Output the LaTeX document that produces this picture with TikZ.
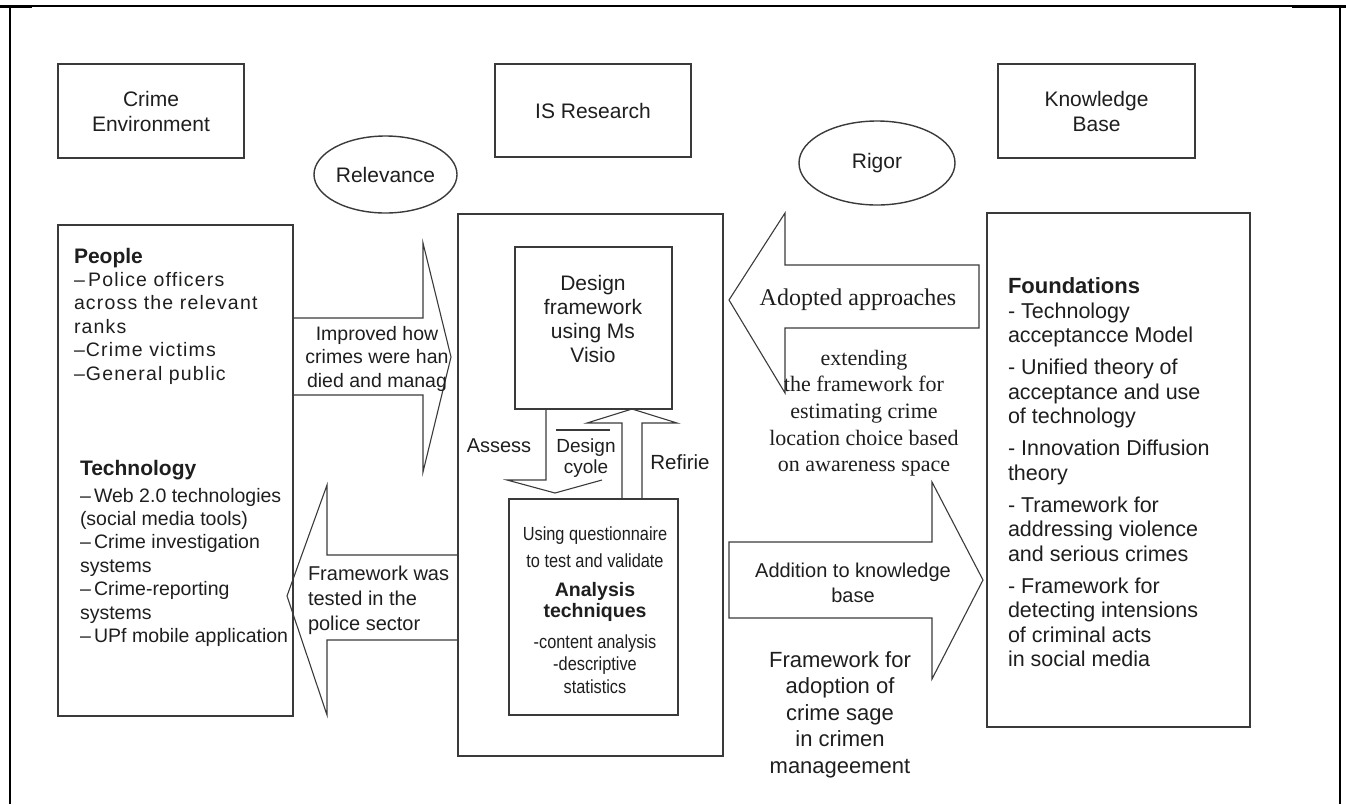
\documentclass[tikz,border=0pt]{standalone}
\usepackage{fontspec}
\usetikzlibrary{shapes.geometric}
\setmainfont{Liberation Sans}
\newfontfamily\serfnt{Liberation Serif}
\newfontfamily\condfnt[FakeStretch=0.86]{Liberation Sans}
\newfontfamily\spacedfnt[LetterSpace=6]{Liberation Sans}
\newcommand\fsz[2]{\fontsize{#1}{#2}\selectfont}
\definecolor{linec}{HTML}{3A3A3A}
\definecolor{txtc}{HTML}{1E1E1E}
\begin{document}
\begin{tikzpicture}[x=1pt,y=-1pt,
  box/.style={draw=linec,line width=1.4pt,inner sep=0,outer sep=0,text=txtc,align=center},
  txt/.style={inner sep=0,outer sep=0,text=txtc},
  blockarrow/.style={draw=linec,line width=1.1pt,line join=miter}]
\useasboundingbox (0,0) rectangle (1346,804);
% outer frame
\draw[line width=1.6pt,black] (10,804) -- (10,6) -- (1340,6) -- (1340,804);
\draw[line width=3pt,black] (0,6) -- (32,6);
\draw[line width=3pt,black] (1292,6) -- (1346,6);

% top labels
\node[box,minimum width=186,minimum height=94,font=\fsz{21}{25}] (crime) at (151,111) {Crime\\Environment};
\node[box,minimum width=196,minimum height=93,font=\fsz{21}{25}] (isr) at (593,110.5) {IS Research};
\node[box,minimum width=197,minimum height=94,font=\fsz{21}{25}] (kb) at (1096.5,111) {Knowledge\\Base};
\node[box,ellipse,minimum width=143,minimum height=77,font=\fsz{21}{25}] (rel) at (385.5,174.5) {Relevance};
\node[box,ellipse,minimum width=156,minimum height=84,font=\fsz{21}{25}] (rig) at (877,163) {Rigor};

% main boxes
\node[box,anchor=north west,minimum width=235,minimum height=491] (envbox) at (58,225) {};
\node[box,anchor=north west,minimum width=265,minimum height=542] (isbox) at (458,214) {};
\node[box,anchor=north west,minimum width=157,minimum height=162] (design) at (515,247) {};
\node[box,anchor=north west,minimum width=169,minimum height=216] (quest) at (509,499) {};
\node[box,anchor=north west,minimum width=263,minimum height=514] (kbbox) at (987,213) {};

% left box text (multi-line nodes anchored at the baseline of their last line)
\node[txt,anchor=base west,font=\bfseries\fsz{21}{25}] (peopleh) at (74,263) {People};
\node[txt,anchor=base west,align=left,font=\spacedfnt\fsz{19.5}{23.5}] (peoplel) at (74,380)
  {–\,Police officers\\across the relevant\\ranks\\–Crime victims\\–General public};
\node[txt,anchor=base west,font=\bfseries\fsz{21}{25}] (techh) at (80,475) {Technology};
\node[txt,anchor=base west,align=left,font=\fsz{19.5}{23.4}] (techl) at (80,642.4)
  {–\,Web 2.0 technologies\\(social media tools)\\–\,Crime investigation\\systems\\–\,Crime-reporting\\systems\\–\,UPf mobile application};

% left block arrows
\draw[blockarrow] (293,318) -- (423,318) -- (423,243) -- (451,357) -- (423,472) -- (423,395) -- (293,395);
\node[txt,anchor=base,align=center,font=\fsz{19.5}{23.5}] (impt) at (377,387) {Improved how\\crimes were han\\died and manag};
\draw[blockarrow] (458,555) -- (327,555) -- (327,485) -- (287,596) -- (327,715) -- (327,640) -- (458,640);
\node[txt,anchor=base west,align=left,font=\fsz{20}{25}] (fwt) at (308,630) {Framework was\\tested in the\\police sector};

% IS research content
\node[txt,anchor=base,align=center,font=\fsz{21}{24.3}] (dest) at (593,362.9) {Design\\framework\\using Ms\\Visio};
\draw[blockarrow] (546,409) -- (546,480) -- (507,480) -- (555,493) -- (602,480);
\draw[blockarrow] (556,430) -- (610,430);
\draw[blockarrow] (622,499) -- (622,423) -- (587,423) -- (632,409) -- (677,423) -- (642,423) -- (642,499);
\node[txt,anchor=base,font=\fsz{20}{24}] (assess) at (499,452) {Assess};
\node[txt,anchor=base,align=center,font=\fsz{19}{21}] (dcyc) at (586,473) {Design\\cyole};
\node[txt,anchor=base,font=\fsz{20.5}{24}] (refirie) at (680,469) {Refirie};
\node[txt,anchor=base,align=center,font=\condfnt\fsz{19}{27}] (qt1) at (595,567) {Using questionnaire\\to test and validate};
\node[txt,anchor=base,align=center,font=\bfseries\fsz{19.5}{21}] (qt2) at (595,617) {Analysis\\techniques};
\node[txt,anchor=base,align=center,font=\condfnt\fsz{19}{22.5}] (qt3) at (595,693) {-content analysis\\-descriptive\\statistics};

% right block arrows
\draw[blockarrow] (979,265) -- (785,265) -- (785,213) -- (729,300) -- (785,393) -- (785,328) -- (979,328) -- cycle;
\node[txt,anchor=base,font=\serfnt\fsz{24}{28}] (adopt) at (858,305) {Adopted approaches};
\node[txt,anchor=base,align=center,font=\serfnt\fsz{22}{26.7}] (ext) at (864,471.8)
  {extending\\the framework for\\estimating crime\\location choice based\\on awareness space};
\draw[blockarrow] (729,542) -- (932,542) -- (932,482) -- (983,580) -- (932,679) -- (932,618) -- (729,618) -- cycle;
\node[txt,anchor=base,align=center,font=\fsz{20}{25}] (addt) at (853,602) {Addition to knowledge\\base};
\node[txt,anchor=base,align=center,font=\fsz{22}{26.5}] (fwa) at (840,773) {Framework for\\adoption of\\crime sage\\in crimen\\manageement};

% right box text
\node[txt,anchor=base west,font=\bfseries\fsz{22}{26}] (foundh) at (1008,293) {Foundations};
\node[txt,anchor=base west,align=left,font=\fsz{21.5}{24.5}] (foundl) at (1008,666.5)
  {- Technology\\acceptancce Model\\[7.5pt]- Unified theory of\\acceptance and use\\of technology\\[7.5pt]- Innovation Diffusion\\theory\\[7.5pt]- Tramework for\\addressing violence\\and serious crimes\\[7.5pt]- Framework for\\detecting intensions\\of criminal acts\\in social media};
\end{tikzpicture}
\end{document}
